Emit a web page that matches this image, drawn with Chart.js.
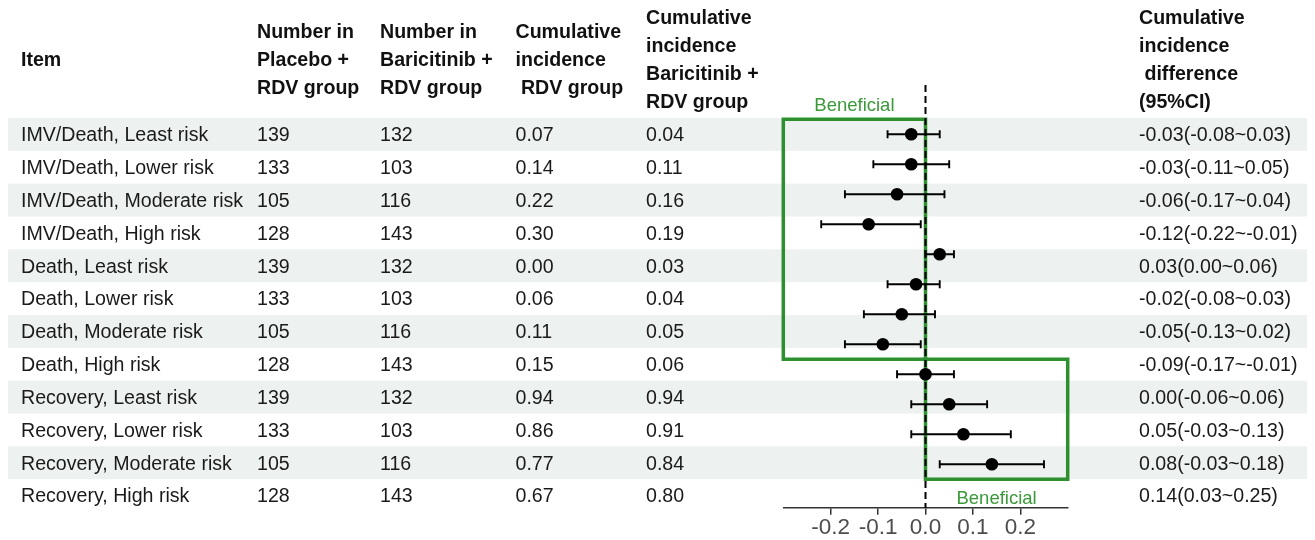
<!DOCTYPE html>
<html>
<head>
<meta charset="utf-8">
<script src="https://cdn.jsdelivr.net/npm/chart.js@4.4.1/dist/chart.umd.min.js"></script>
<style>
  html, body { margin: 0; padding: 0; background: #ffffff; }
  #wrap { width: 1315px; height: 540px; position: relative; }
</style>
</head>
<body>
<div id="wrap"><canvas id="forest" width="1315" height="540"></canvas></div>
<script>
// ---- table rows ----
const items = [
  'IMV/Death, Least risk', 'IMV/Death, Lower risk', 'IMV/Death, Moderate risk', 'IMV/Death, High risk',
  'Death, Least risk', 'Death, Lower risk', 'Death, Moderate risk', 'Death, High risk',
  'Recovery, Least risk', 'Recovery, Lower risk', 'Recovery, Moderate risk', 'Recovery, High risk'
];
const nPlacebo = [139, 133, 105, 128, 139, 133, 105, 128, 139, 133, 105, 128];
const nBaricitinib = [132, 103, 116, 143, 132, 103, 116, 143, 132, 103, 116, 143];
const incPlacebo = [0.07, 0.14, 0.22, 0.30, 0.00, 0.06, 0.11, 0.15, 0.94, 0.86, 0.77, 0.67];
const incBaricitinib = [0.04, 0.11, 0.16, 0.19, 0.03, 0.04, 0.05, 0.06, 0.94, 0.91, 0.84, 0.80];

// ---- cumulative incidence difference with 95% CI ----
const diffEst = [-0.03, -0.03, -0.06, -0.12, 0.03, -0.02, -0.05, -0.09, 0.00, 0.05, 0.08, 0.14];
const diffLow = [-0.08, -0.11, -0.17, -0.22, 0.00, -0.08, -0.13, -0.17, -0.06, -0.03, -0.03, 0.03];
const diffHigh = [0.03, 0.05, 0.04, -0.01, 0.06, 0.03, 0.02, -0.01, 0.06, 0.13, 0.18, 0.25];

// ---- axis ----
const xTicks = [-0.2, -0.1, 0.0, 0.1, 0.2];
const xLimits = [-0.3, 0.3];

// ---- beneficial zones: first/last row and the direction that favours baricitinib ----
const zoneFirstRow = [0, 8];
const zoneLastRow = [7, 11];
const zoneSide = [-1, 1];

// ---- column headers ----
const headers = [
  ['Item'],
  ['Number in', 'Placebo +', 'RDV group'],
  ['Number in', 'Baricitinib +', 'RDV group'],
  ['Cumulative', 'incidence', ' RDV group'],
  ['Cumulative', 'incidence', 'Baricitinib +', 'RDV group'],
  ['Cumulative', 'incidence', ' difference', '(95%CI)']
];

const FONT = '"Liberation Sans", Arial, Helvetica, sans-serif';
const TEXT_SIZE = 19.6;
const TEXT_NUDGE = 1.5;
const GREEN = '#2e8f2e';
const STRIPE = '#edf1f0';
const colX = [21, 257, 380, 515.5, 646, 1139];
const stripeLeft = 8, stripeRight = 1307;

function fmt2(v) { return (Math.abs(v) < 1e-9 ? 0 : v).toFixed(2); }

const rowCells = items.map((name, i) => [
  name,
  String(nPlacebo[i]),
  String(nBaricitinib[i]),
  fmt2(incPlacebo[i]),
  fmt2(incBaricitinib[i]),
  fmt2(diffEst[i]) + '(' + fmt2(diffLow[i]) + '~' + fmt2(diffHigh[i]) + ')'
]);

// outline of each beneficial zone, in data units
const zoneDatasets = zoneFirstRow.map((first, k) => {
  const top = first - 0.5, bottom = zoneLastRow[k] + 0.5;
  const far = zoneSide[k] < 0 ? xLimits[0] : xLimits[1];
  return {
    type: 'scatter',
    data: [
      { x: far, y: top }, { x: 0, y: top }, { x: 0, y: bottom },
      { x: far, y: bottom }, { x: far, y: top }
    ],
    showLine: true,
    borderColor: GREEN,
    borderWidth: 3.5,
    borderJoinStyle: 'miter',
    borderCapStyle: 'square',
    pointRadius: 0,
    fill: false,
    clip: false,
    order: 3
  };
});

const Y_MIN = -1.643, Y_MAX = 12.447;   // forest rows
const R_MIN = -1.505, R_MAX = 11.37;    // table rows

const zeroLine = {
  type: 'scatter',
  data: [{ x: 0, y: Y_MIN }, { x: 0, y: Y_MAX }],
  showLine: true,
  borderColor: '#000000',
  borderWidth: 2,
  borderDash: [7, 4],
  pointRadius: 0,
  clip: false,
  order: 2
};

const estimates = {
  type: 'scatter',
  data: diffEst.map((v, i) => ({ x: v, y: i })),
  pointRadius: 6.3,
  pointBackgroundColor: '#000000',
  pointBorderColor: '#000000',
  pointBorderWidth: 0,
  order: 1
};

// table, stripes, CI whiskers and zone captions
const tablePlugin = {
  id: 'forestTable',
  beforeDraw(chart) {
    const ctx = chart.ctx, rows = chart.scales.rows;
    ctx.save();
    ctx.fillStyle = '#ffffff';
    ctx.fillRect(0, 0, chart.width, chart.height);
    ctx.fillStyle = STRIPE;
    items.forEach((_, i) => {
      if (i % 2 !== 0) return;
      const t = rows.getPixelForValue(i - 0.5), b = rows.getPixelForValue(i + 0.5);
      ctx.fillRect(stripeLeft, t, stripeRight - stripeLeft, b - t);
    });
    ctx.restore();
  },
  beforeDatasetDraw(chart, args) {
    if (args.index !== chart.data.datasets.indexOf(estimates)) return;
    const ctx = chart.ctx, xs = chart.scales.x, ys = chart.scales.y;
    ctx.save();
    ctx.strokeStyle = '#000000';
    ctx.lineWidth = 1.9;
    diffEst.forEach((_, i) => {
      const y = ys.getPixelForValue(i);
      const x1 = xs.getPixelForValue(diffLow[i]), x2 = xs.getPixelForValue(diffHigh[i]);
      ctx.beginPath();
      ctx.moveTo(x1, y); ctx.lineTo(x2, y);
      ctx.moveTo(x1, y - 4); ctx.lineTo(x1, y + 4);
      ctx.moveTo(x2, y - 4); ctx.lineTo(x2, y + 4);
      ctx.stroke();
    });
    ctx.restore();
  },
  afterDraw(chart) {
    const ctx = chart.ctx, rows = chart.scales.rows, xs = chart.scales.x, ys = chart.scales.y;
    ctx.save();
    ctx.textBaseline = 'middle';
    ctx.textAlign = 'left';

    // header block, centred on the same line as "Item"
    ctx.fillStyle = '#111111';
    ctx.font = 'bold ' + TEXT_SIZE + 'px ' + FONT;
    const headMid = rows.getPixelForValue(-0.5) - 59 + TEXT_NUDGE, lineGap = 28;
    headers.forEach((lines, c) => {
      const start = headMid - (lines.length - 1) * lineGap / 2;
      lines.forEach((txt, j) => ctx.fillText(txt, colX[c], start + j * lineGap));
    });

    // body cells
    ctx.fillStyle = '#1a1a1a';
    ctx.font = TEXT_SIZE + 'px ' + FONT;
    rowCells.forEach((cells, i) => {
      const y = rows.getPixelForValue(i) + TEXT_NUDGE;
      cells.forEach((txt, c) => ctx.fillText(txt, colX[c], y));
    });

    // zone captions
    ctx.fillStyle = '#3a9a3a';
    ctx.font = '18.5px ' + FONT;
    ctx.textAlign = 'center';
    zoneFirstRow.forEach((first, k) => {
      const far = zoneSide[k] < 0 ? xLimits[0] : xLimits[1];
      const x = xs.getPixelForValue(far / 2);
      const y = zoneSide[k] < 0 ? ys.getPixelForValue(first - 1) : ys.getPixelForValue(zoneLastRow[k] + 1.1);
      ctx.fillText('Beneficial', x, y + TEXT_NUDGE);
    });
    ctx.restore();
  }
};

new Chart(document.getElementById('forest'), {
  type: 'scatter',
  data: { datasets: [...zoneDatasets, zeroLine, estimates] },
  options: {
    responsive: false,
    animation: false,
    events: [],
    layout: { padding: { left: 783.3, right: 247.3, top: 85, bottom: 0 } },
    plugins: { legend: { display: false }, tooltip: { enabled: false } },
    scales: {
      x: {
        type: 'linear',
        min: xLimits[0],
        max: xLimits[1],
        afterBuildTicks(scale) { scale.ticks = xTicks.map(v => ({ value: v })); },
        afterFit(scale) { scale.height = 32.3; },
        border: { display: true, color: '#333333', width: 1.5 },
        grid: { drawOnChartArea: false, drawTicks: true, tickLength: 7, color: '#333333', lineWidth: 1.5 },
        ticks: {
          padding: 0,
          color: '#4d4d4d',
          font: { family: FONT, size: 22.5 },
          maxRotation: 0,
          autoSkip: false,
          callback: (v) => Number(v).toFixed(1)
        }
      },
      y: { type: 'linear', reverse: true, min: Y_MIN, max: Y_MAX, display: false },
      rows: { type: 'linear', axis: 'y', reverse: true, min: R_MIN, max: R_MAX, display: false }
    }
  },
  plugins: [tablePlugin]
});
</script>
</body>
</html>
